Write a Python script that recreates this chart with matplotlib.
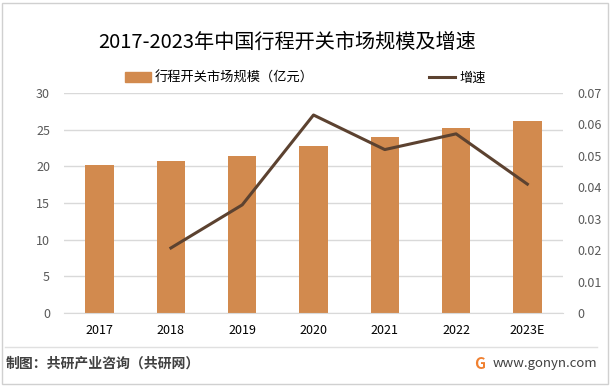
import matplotlib
matplotlib.use('Agg')
import numpy as np
from matplotlib import pyplot as plt
from matplotlib.patches import Rectangle
from matplotlib.lines import Line2D

plt.rcParams['font.family'] = ['Noto Sans CJK SC', 'DejaVu Sans']

years = ['2017', '2018', '2019', '2020', '2021', '2022', '2023E']
market_size = [20.2, 20.7, 21.4, 22.8, 24.0, 25.2, 26.2]
growth = [None, 0.0207, 0.0344, 0.0630, 0.0520, 0.0570, 0.0410]

BAR_COLOR = '#D28A4E'
LINE_COLOR = '#5C4230'
W, H = 611, 386

fig = plt.figure(figsize=(W / 100, H / 100), dpi=100)
ax = fig.add_axes([64 / W, (H - 313) / H, (563 - 64) / W, (313 - 93) / H])
ax2 = ax.twinx()

x = np.arange(len(years))
ax.bar(x, market_size, width=0.4, color=BAR_COLOR, zorder=2)
gx = [i for i, g in enumerate(growth) if g is not None]
gy = [g for g in growth if g is not None]
ax2.plot(gx, gy, color=LINE_COLOR, lw=2.2, zorder=3)

ax.set_xlim(-0.5, len(years) - 0.5)
ax.set_ylim(0, 30)
ax.set_yticks(np.arange(0, 31, 5))
ax2.set_ylim(0, 0.07)
ax2.set_yticks(np.arange(0, 0.071, 0.01))
ax2.set_yticklabels(['0'] + [f'{v:.2f}' for v in np.arange(0.01, 0.071, 0.01)])
ax.set_xticks(x)
ax.set_xticklabels(years)

ax.grid(axis='y', color='#D9D9D9', lw=1, zorder=0)
ax.set_axisbelow(True)
for a in (ax, ax2):
    for s in a.spines.values():
        s.set_visible(False)
    a.tick_params(length=0, labelsize=9, colors='#595959')
ax.spines['bottom'].set_visible(True)
ax.spines['bottom'].set_color('#D9D9D9')
ax.tick_params(axis='x', colors='black', pad=8)
ax.tick_params(axis='y', pad=10)
ax2.tick_params(axis='y', pad=10)

fig.text(287 / W, 1 - 42 / H, '2017-2023年中国行程开关市场规模及增速',
         ha='center', va='center', fontsize=14.5, color='black')

handles = [Rectangle((0, 0), 1, 1, color=BAR_COLOR),
           Line2D([0], [0], color=LINE_COLOR, lw=2.2)]
fig.legend(handles, ['行程开关市场规模（亿元）', '增速'], loc='center',
           bbox_to_anchor=(305 / W, 1 - 78 / H), ncol=2, frameon=False,
           fontsize=9.5, columnspacing=8.7, handlelength=2.0, handletextpad=0.3)

fig.add_artist(Line2D([5 / W, 597 / W], [1 - 347 / H, 1 - 347 / H],
                      color='#E0E0E0', lw=1))
fig.text(6 / W, 1 - 364 / H, '制图：共研产业咨询（共研网）', ha='left', va='center',
         fontsize=10, color='#404040', fontweight='bold')
fig.text(597 / W, 1 - 364 / H, 'www.gonyn.com', ha='right', va='center',
         fontsize=9.5, color='#404040')
fig.text(480 / W, 1 - 364 / H, 'G', ha='center', va='center',
         fontsize=11, color='#F08030', fontweight='bold')
fig.add_artist(Rectangle((2 / W, 2 / H), (W - 5) / W, (H - 5) / H,
                         fill=False, edgecolor='#D0D0D0', lw=1))

fig.savefig('out.png', dpi=100)
